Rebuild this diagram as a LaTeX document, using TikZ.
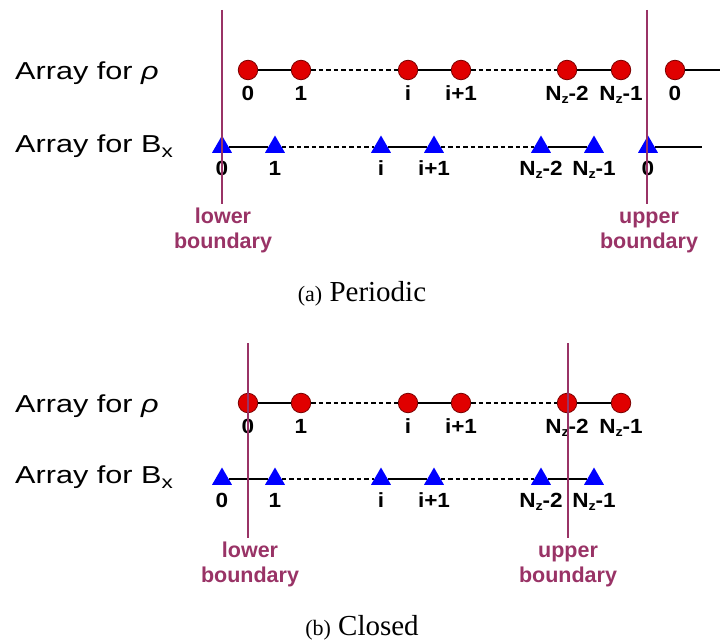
\documentclass[tikz,border=0pt]{standalone}
\usepackage{fontspec}
\setmainfont{Liberation Sans}
\newfontfamily\capfont{Liberation Serif}
\newfontfamily\rowfont[FakeStretch=1.25]{Liberation Sans}
\newfontfamily\idxfont[FakeStretch=1.1]{Liberation Sans}
\usetikzlibrary{shapes.geometric}
\definecolor{rhored}{HTML}{E00000}
\definecolor{rhoedge}{HTML}{7A0000}
\definecolor{bxblue}{HTML}{0000FF}
\definecolor{bound}{HTML}{993366}
\newcommand{\subz}{\raisebox{-0.35ex}{\fontsize{13}{13}\selectfont z}}
\newcommand{\subx}{\raisebox{-0.4ex}{\fontsize{18}{18}\selectfont x}}
\tikzset{
  rhopt/.style={circle, fill=rhored, draw=rhoedge, line width=0.8pt, minimum size=19.5pt, inner sep=0pt},
  bxpt/.style={regular polygon, regular polygon sides=3, fill=bxblue, draw=none, minimum size=23pt, inner sep=0pt},
  solidlink/.style={line width=2.6pt, draw=black},
  dashlink/.style={line width=1.8pt, draw=black, dash pattern=on 4.5pt off 3pt},
  idx/.style={font=\idxfont\fontsize{20.5}{20.5}\selectfont\bfseries, inner sep=0pt, anchor=base},
  bline/.style={line width=2pt, draw=bound},
  blabel/.style={font=\fontsize{21.5}{21.5}\selectfont\bfseries, text=bound, inner sep=0pt, anchor=base},
  rowlabel/.style={font=\rowfont\fontsize{24.5}{24.5}\selectfont, anchor=base west, inner sep=0pt},
  caption/.style={font=\capfont\fontsize{29}{29}\selectfont, inner sep=0pt, anchor=base},
}
\begin{document}
\begin{tikzpicture}[x=1pt, y=-1pt]
\useasboundingbox (0,0) rectangle (720,642);

% ---------- (a) periodic ----------
\node[rowlabel] (rowra) at (15,80) {Array for {\itshape ρ}};
\node[rowlabel] (rowba) at (15,152) {Array for B\subx};

\foreach \n/\x/\t in {0/248/0, 1/301/1, 2/408/i, 3/461/i+1, 4/567/N\subz-2, 5/621/N\subz-1, 6/675/0} {
  \node[rhopt] (ra\n) at (\x,70) {};
  \node[idx] (rla\n) at (\x,100) {\t};
}
\foreach \n/\x/\t in {0/222/0, 1/275/1, 2/381/i, 3/434/i+1, 4/541/N\subz-2, 5/594/N\subz-1, 6/648/0} {
  \node[bxpt] (ba\n) at (\x,147) {};
  \node[idx] (bla\n) at (\x,175) {\t};
}
\coordinate (raend) at (720,70);
\coordinate (baend) at (702,147);

\draw[solidlink] (ra0) -- (ra1);
\draw[dashlink]  (ra1) -- (ra2);
\draw[solidlink] (ra2) -- (ra3);
\draw[dashlink]  (ra3) -- (ra4);
\draw[solidlink] (ra4) -- (ra5);
\draw[solidlink] (ra6) -- (raend);

\draw[solidlink] (ba0) -- (ba1);
\draw[dashlink]  (ba1) -- (ba2);
\draw[solidlink] (ba2) -- (ba3);
\draw[dashlink]  (ba3) -- (ba4);
\draw[solidlink] (ba4) -- (ba5);
\draw[solidlink] (ba6) -- (baend);

\coordinate (lowtopa) at (222,10);
\coordinate (lowbota) at (222,204);
\coordinate (uptopa) at (647,10);
\coordinate (upbota) at (647,204);
\draw[bline] (lowtopa) -- (lowbota);
\draw[bline] (uptopa) -- (upbota);
\node[blabel] (lowla1) at (223,223) {lower};
\node[blabel] (lowla2) at (223,248) {boundary};
\node[blabel] (upla1) at (649,223) {upper};
\node[blabel] (upla2) at (649,248) {boundary};

\node[caption] (capa) at (362,301) {{\fontsize{22}{22}\selectfont (a)}~Periodic};

% ---------- (b) closed ----------
\node[rowlabel] (rowrb) at (15,412) {Array for {\itshape ρ}};
\node[rowlabel] (rowbb) at (15,483) {Array for B\subx};

\foreach \n/\x/\t in {0/248/0, 1/301/1, 2/408/i, 3/461/i+1, 4/567/N\subz-2, 5/621/N\subz-1} {
  \node[rhopt] (rb\n) at (\x,403) {};
  \node[idx] (rlb\n) at (\x,433) {\t};
}
\foreach \n/\x/\t in {0/222/0, 1/275/1, 2/381/i, 3/434/i+1, 4/541/N\subz-2, 5/594/N\subz-1} {
  \node[bxpt] (bb\n) at (\x,479) {};
  \node[idx] (blb\n) at (\x,507) {\t};
}

\draw[solidlink] (rb0) -- (rb1);
\draw[dashlink]  (rb1) -- (rb2);
\draw[solidlink] (rb2) -- (rb3);
\draw[dashlink]  (rb3) -- (rb4);
\draw[solidlink] (rb4) -- (rb5);

\draw[solidlink] (bb0) -- (bb1);
\draw[dashlink]  (bb1) -- (bb2);
\draw[solidlink] (bb2) -- (bb3);
\draw[dashlink]  (bb3) -- (bb4);
\draw[solidlink] (bb4) -- (bb5);

\coordinate (lowtopb) at (248,343);
\coordinate (lowbotb) at (248,538);
\coordinate (uptopb) at (568,343);
\coordinate (upbotb) at (568,538);
\draw[bline] (lowtopb) -- (lowbotb);
\draw[bline] (uptopb) -- (upbotb);
\node[blabel] (lowlb1) at (250,557) {lower};
\node[blabel] (lowlb2) at (250,582) {boundary};
\node[blabel] (uplb1) at (568,557) {upper};
\node[blabel] (uplb2) at (568,582) {boundary};

\node[caption] (capb) at (362,635) {{\fontsize{22}{22}\selectfont (b)}~Closed};
\end{tikzpicture}
\end{document}
